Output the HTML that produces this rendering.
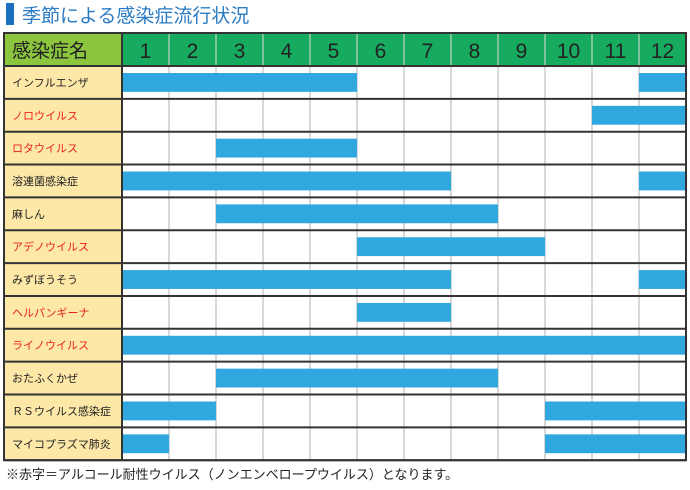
<!DOCTYPE html>
<html><head><meta charset="utf-8"><style>
body{margin:0;width:690px;height:490px;background:#fff;font-family:"Liberation Sans","Noto Sans CJK JP",sans-serif;position:relative;overflow:hidden}
#title{position:absolute;left:6px;top:2px;height:24px;display:flex;align-items:center}
#title .bar{width:8px;height:22px;background:#1a6fc0;margin-right:8px}
#title span{font-size:19px;color:#2a7bc4}
#note{position:absolute;left:6px;top:464px;font-size:13px;color:#222}
</style></head><body>
<div id="title"><div class="bar"></div><span>季節による感染症流行状況</span></div>
<svg id="chart" width="690" height="490" style="position:absolute;left:0;top:0"></svg>
<div id="note">※赤字＝アルコール耐性ウイルス（ノンエンベロープウイルス）となります。</div>
<script>
const months=["1","2","3","4","5","6","7","8","9","10","11","12"];
const diseases=["インフルエンザ","ノロウイルス","ロタウイルス","溶連菌感染症","麻しん","アデノウイルス","みずぼうそう","ヘルパンギーナ","ライノウイルス","おたふくかぜ","ＲＳウイルス感染症","マイコプラズマ肺炎"];
const alcoholResistant=[false,true,true,false,false,true,false,true,true,false,false,false];
const periods=[[[1,5],[12,12]],[[11,12]],[[3,5]],[[1,7],[12,12]],[[3,8]],[[6,9]],[[1,7],[12,12]],[[6,7]],[[1,12]],[[3,8]],[[1,2],[10,12]],[[1,1],[10,12]]];
const svg=document.getElementById('chart');const NS='http://www.w3.org/2000/svg';
const L=4,LX=122,R=686,T=33,HH=33,RH=32.85;
const cw=(R-LX)/12;
const xm=m=>LX+(m-1)*cw;
const yr=i=>T+HH+i*RH;
function el(t,a,p){const e=document.createElementNS(NS,t);for(const k in a)e.setAttribute(k,a[k]);(p||svg).appendChild(e);return e;}
let e=el('rect',{x:L,y:T,width:LX-L,height:HH,fill:'#8cc63f'});

e=el('text',{x:L+8,y:T+24,'font-size':19,fill:'#222'});e.textContent='感染症名';

el('rect',{x:LX,y:T,width:R-LX,height:HH,fill:'#17ab5f'});
months.forEach((m,i)=>{const t=el('text',{x:xm(i+1)+cw/2,y:T+25,'font-size':21,fill:'#222','text-anchor':'middle'});t.textContent=m;
});
diseases.forEach((d,i)=>{
 const y=yr(i);
 el('rect',{x:L,y:y,width:LX-L,height:RH,fill:'#fde8a8'});
 const t=el('text',{x:L+8,y:y+RH/2+4,'font-size':11,fill:alcoholResistant[i]?'#e8231d':'#222'});t.textContent=d;
 
});
for(let m=2;m<=12;m++){el('line',{x1:xm(m),x2:xm(m),y1:T+HH,y2:yr(12),stroke:'#ccc','stroke-width':1.5});
 el('line',{x1:xm(m),x2:xm(m),y1:T,y2:T+HH,stroke:'#9ccfae','stroke-width':1.5});}
periods.forEach((ps,i)=>ps.forEach(p=>{
 const b=el('rect',{x:xm(p[0]),y:yr(i)+7,width:xm(p[1]+1)-xm(p[0]),height:RH-14,fill:'#30a7df'});
 
}));
for(let i=0;i<=12;i++)el('line',{x1:L,x2:R,y1:yr(i),y2:yr(i),stroke:'#333','stroke-width':2});
el('line',{x1:L,x2:R,y1:T,y2:T,stroke:'#333','stroke-width':2});
el('line',{x1:LX,x2:LX,y1:T,y2:yr(12),stroke:'#333','stroke-width':2});
el('rect',{x:L,y:T,width:R-L,height:yr(12)-T,fill:'none',stroke:'#333','stroke-width':2});
</script>
</body></html>
